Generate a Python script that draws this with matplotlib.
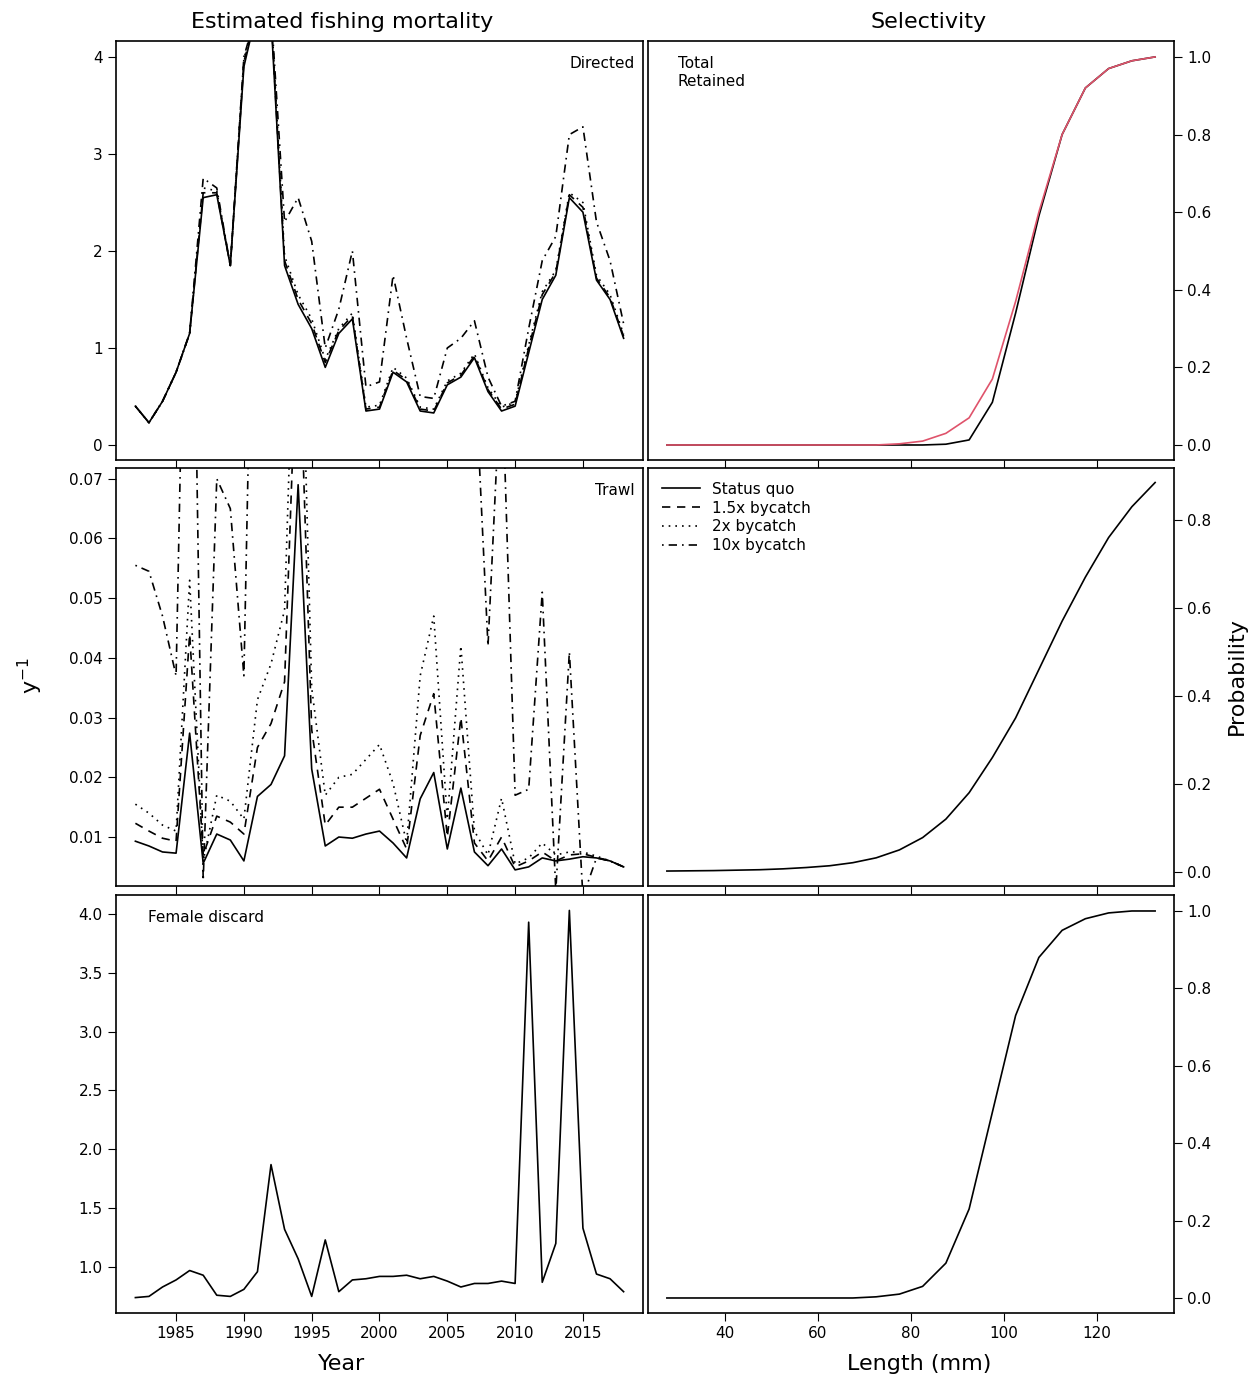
import matplotlib
matplotlib.use("Agg")
import matplotlib.pyplot as plt
import numpy as np

years = np.arange(1982, 2019)
dir_sq = [0.4,0.23,0.45,0.75,1.15,2.55,2.58,1.85,3.9,4.5,4.4,1.85,1.45,1.2,0.8,1.15,1.3,0.35,0.37,0.75,0.65,0.35,0.33,0.62,0.7,0.9,0.55,0.35,0.4,0.95,1.5,1.75,2.55,2.4,1.7,1.5,1.1]
dir_15 = [0.4,0.23,0.45,0.75,1.15,2.6,2.6,1.85,3.95,4.5,4.45,1.9,1.5,1.25,0.85,1.18,1.33,0.37,0.39,0.77,0.67,0.37,0.35,0.64,0.72,0.92,0.57,0.37,0.42,1.0,1.55,1.78,2.58,2.45,1.72,1.52,1.12]
dir_2 = [0.4,0.23,0.45,0.75,1.15,2.65,2.62,1.85,3.98,4.5,4.5,1.95,1.55,1.3,0.88,1.2,1.36,0.39,0.41,0.8,0.69,0.39,0.37,0.66,0.74,0.94,0.59,0.39,0.44,1.03,1.58,1.8,2.6,2.5,1.75,1.55,1.14]
dir_10 = [0.4,0.23,0.45,0.75,1.15,2.75,2.65,1.85,4.0,4.5,4.5,2.3,2.55,2.1,1.0,1.4,2.0,0.6,0.65,1.75,1.1,0.5,0.48,1.0,1.1,1.28,0.7,0.4,0.45,1.2,1.9,2.15,3.2,3.28,2.3,1.9,1.25]

trawl_sq = [0.0093,0.0085,0.0075,0.0073,0.0274,0.0056,0.0105,0.0095,0.006,0.0168,0.0188,0.0236,0.069,0.0214,0.0085,0.01,0.0098,0.0105,0.011,0.009,0.0065,0.0164,0.0208,0.008,0.0182,0.0075,0.0052,0.008,0.0045,0.005,0.0065,0.006,0.0063,0.0067,0.0065,0.006,0.005]
trawl_15 = [0.0123,0.011,0.0098,0.0093,0.044,0.007,0.0135,0.0125,0.0105,0.025,0.029,0.036,0.1,0.028,0.012,0.015,0.015,0.0165,0.018,0.013,0.008,0.027,0.034,0.01,0.03,0.009,0.006,0.01,0.005,0.006,0.0075,0.006,0.007,0.0072,0.0066,0.006,0.005]
trawl_2 = [0.0155,0.014,0.012,0.011,0.053,0.006,0.017,0.016,0.013,0.033,0.039,0.048,0.12,0.035,0.017,0.02,0.0205,0.023,0.0255,0.019,0.009,0.037,0.047,0.013,0.042,0.011,0.007,0.0165,0.0055,0.0065,0.009,0.007,0.0075,0.0075,0.0068,0.006,0.005]
trawl_10 = [0.0555,0.0545,0.047,0.037,0.15,0.0027,0.07,0.065,0.037,0.15,0.2,0.25,0.4,0.2,0.1,0.1,0.12,0.1,0.11,0.12,0.09,0.15,0.18,0.1,0.15,0.09,0.042,0.09,0.017,0.018,0.051,0.001,0.041,0.0,0.0065,0.006,0.005]

fem = [0.74,0.75,0.83,0.89,0.97,0.93,0.76,0.75,0.81,0.96,1.87,1.32,1.07,0.75,1.23,0.79,0.89,0.9,0.92,0.92,0.93,0.9,0.92,0.88,0.83,0.86,0.86,0.88,0.86,3.93,0.87,1.2,4.03,1.33,0.94,0.9,0.79]

length = np.arange(27.5, 133, 5)
sel_total = [0,0,0,0,0,0,0,0,0,0,0.003,0.01,0.03,0.07,0.17,0.37,0.6,0.8,0.92,0.97,0.99,1.0]
sel_ret = [0,0,0,0,0,0,0,0,0,0,0,0,0.002,0.013,0.11,0.34,0.59,0.8,0.92,0.97,0.99,1.0]
sel_trawl = [0.002,0.0025,0.003,0.004,0.005,0.007,0.01,0.014,0.021,0.032,0.05,0.078,0.12,0.18,0.26,0.35,0.46,0.57,0.67,0.76,0.83,0.885]
sel_fem = [0,0,0,0,0,0,0,0,0,0.003,0.01,0.03,0.09,0.23,0.48,0.73,0.88,0.95,0.98,0.995,1.0,1.0]

W, H = 1259, 1383
fig = plt.figure(figsize=(W/100, H/100), dpi=100)
def ax_at(x0, y0, x1, y1):
    return fig.add_axes([x0/W, 1-y1/H, (x1-x0)/W, (y1-y0)/H])
rows = [(41,460),(468,886),(895,1313)]
axL = [ax_at(116,a,643,b) for a,b in rows]
axR = [ax_at(648,a,1174,b) for a,b in rows]

styles = [dict(ls='-'), dict(ls=(0,(5,4))), dict(ls=(0,(1,3))), dict(ls=(0,(1,3,5,3)))]
labels = ['Status quo','1.5x bycatch','2x bycatch','10x bycatch']
for data, ax in [((dir_sq,dir_15,dir_2,dir_10), axL[0]), ((trawl_sq,trawl_15,trawl_2,trawl_10), axL[1])]:
    for d, st, lb in zip(data, styles, labels):
        ax.plot(years, d, color='black', lw=1.2, label=lb, **st)
axL[2].plot(years, fem, color='black', lw=1.2)

axL[0].set_ylim(-0.155, 4.165); axL[0].set_yticks([0,1,2,3,4])
axL[1].set_ylim(0.0018, 0.0718); axL[1].set_yticks([0.01,0.02,0.03,0.04,0.05,0.06,0.07])
axL[1].set_yticklabels(['0.01','0.02','0.03','0.04','0.05','0.06','0.07'])
axL[2].set_ylim(0.609, 4.161); axL[2].set_yticks([1.0,1.5,2.0,2.5,3.0,3.5,4.0])
axL[2].set_yticklabels(['1.0','1.5','2.0','2.5','3.0','3.5','4.0'])
for ax in axL:
    ax.set_xlim(1980.57, 2019.43)
    ax.set_xticks([1985,1990,1995,2000,2005,2010,2015])
for ax in axL[:2]:
    ax.tick_params(axis='x', labelbottom=False, length=0)

axR[0].plot(length, sel_ret, color='black', lw=1.2)
axR[0].plot(length, sel_total, color='#DF536B', lw=1.2)
axR[1].plot(length, sel_trawl, color='black', lw=1.2)
axR[2].plot(length, sel_fem, color='black', lw=1.2)
axR[0].set_ylim(-0.0387, 1.041); axR[0].set_yticks([0,0.2,0.4,0.6,0.8,1.0])
axR[1].set_ylim(-0.032, 0.918); axR[1].set_yticks([0,0.2,0.4,0.6,0.8])
axR[2].set_ylim(-0.0388, 1.0413); axR[2].set_yticks([0,0.2,0.4,0.6,0.8,1.0])
for ax in axR:
    ax.set_xlim(23.44, 136.56)
    ax.set_xticks([40,60,80,100,120])
    ax.yaxis.tick_right()
    ax.set_yticklabels(['%.1f' % v for v in ax.get_yticks()])
for ax in axR[:2]:
    ax.tick_params(axis='x', labelbottom=False, length=0)

for ax in axL + axR:
    ax.tick_params(labelsize=11, length=6, direction='out')
    for s in ax.spines.values():
        s.set_linewidth(1.2)

axL[0].text(0.985, 0.965, 'Directed', transform=axL[0].transAxes, ha='right', va='top', fontsize=11)
axL[1].text(0.985, 0.965, 'Trawl', transform=axL[1].transAxes, ha='right', va='top', fontsize=11)
axL[2].text(0.06, 0.965, 'Female discard', transform=axL[2].transAxes, ha='left', va='top', fontsize=11)
axR[0].text(0.057, 0.965, 'Total\nRetained', transform=axR[0].transAxes, ha='left', va='top', fontsize=11, linespacing=1.3)
axR[1].legend(handles=axL[1].get_lines(), labels=labels, loc='upper left', frameon=False, fontsize=11,
              handlelength=2.5, labelspacing=0.25, borderaxespad=0.5)

fig.text(342/W, 1-22/H, 'Estimated fishing mortality', ha='center', va='center', fontsize=16)
fig.text(929/W, 1-22/H, 'Selectivity', ha='center', va='center', fontsize=16)
fig.text(342/W, 1-1364/H, 'Year', ha='center', va='center', fontsize=16)
fig.text(919/W, 1-1364/H, 'Length (mm)', ha='center', va='center', fontsize=16)
fig.text(30/W, 1-676/H, r'y$^{-1}$', ha='center', va='center', fontsize=16, rotation=90)
fig.text(1237/W, 1-676/H, 'Probability', ha='center', va='center', fontsize=16, rotation=90)

fig.savefig('out.png', dpi=100)
